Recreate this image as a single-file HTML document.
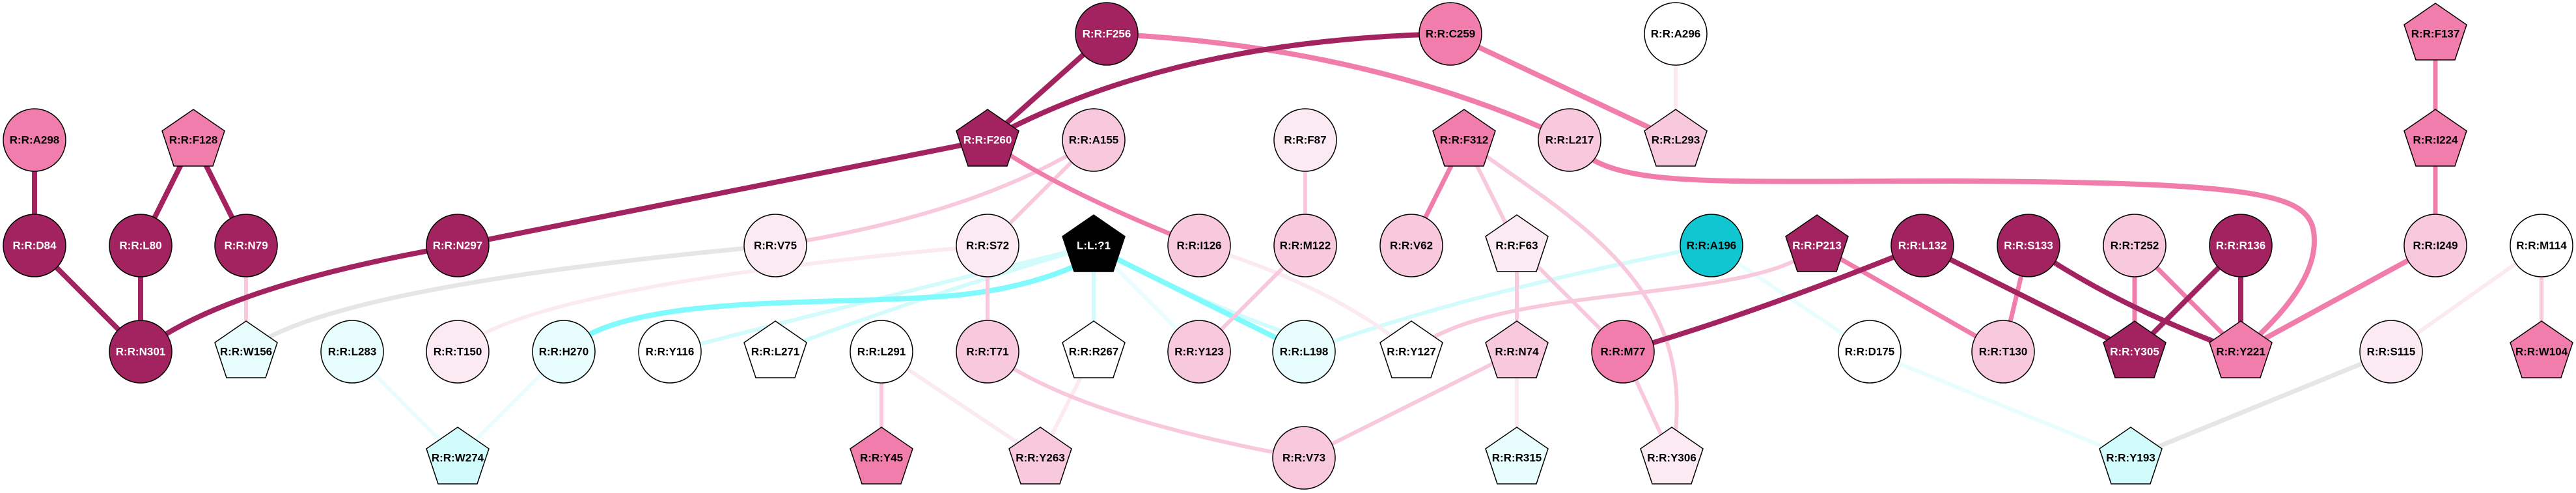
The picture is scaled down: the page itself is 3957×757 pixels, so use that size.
<!DOCTYPE html>
<html><head><meta charset="utf-8"><style>
html,body{margin:0;padding:0;background:#fff;}
svg{display:block;}
text{font-family:"Liberation Sans",sans-serif;font-weight:bold;font-size:17px;text-anchor:middle;dominant-baseline:central;}
.w{fill:#fff;}
</style></head><body>
<svg width="3957" height="757" viewBox="0 0 3957 757" xmlns="http://www.w3.org/2000/svg">
<defs>
<polygon id="p" points="0,-47 48,-14 30,40 -30,40 -48,-14" stroke="#000" stroke-width="1.5"/>
</defs>
<g fill="none" stroke-linecap="butt">
<!-- very light / cyan / gray first -->
<path d="M378,540 Q500,440 1191,377" stroke="#E6E6E6" stroke-width="7"/>
<path d="M703,540 Q800,440 1517,377" stroke="#FBEAF2" stroke-width="6"/>
<path d="M541,540 L703,703" stroke="#E8FDFD" stroke-width="6"/>
<path d="M866,540 L703,703" stroke="#E8FDFD" stroke-width="6"/>
<path d="M1680,377 Q1300,470 1029,540" stroke="#D2FBFC" stroke-width="6"/>
<path d="M1680,377 Q1400,460 1191,540" stroke="#D2FBFC" stroke-width="6"/>
<path d="M1680,377 L1680,540" stroke="#D2FBFC" stroke-width="6"/>
<path d="M1680,377 L1842,540" stroke="#E8FDFD" stroke-width="6"/>
<path d="M1680,377 Q1850,470 2003,520" stroke="#D2FBFC" stroke-width="6"/>
<path d="M2629,377 Q2250,450 2003,540" stroke="#D2FBFC" stroke-width="6"/>
<path d="M2629,377 L2872,540 L3273,703" stroke="#E8FDFD" stroke-width="6"/>
<path d="M3673,540 L3273,703" stroke="#E6E6E6" stroke-width="7"/>
<path d="M3904,377 L3673,540" stroke="#FBEAF2" stroke-width="6"/>
<path d="M1842,377 Q2050,440 2168,540" stroke="#FBEAF2" stroke-width="6"/>
<path d="M1354,540 L1598,703" stroke="#FBEAF2" stroke-width="6"/>
<path d="M1680,540 L1598,703" stroke="#FBEAF2" stroke-width="6"/>
<path d="M2574,52 L2574,215" stroke="#FBEAF2" stroke-width="6"/>
<path d="M2330,540 L2330,703" stroke="#FBEAF2" stroke-width="6"/>
<!-- bright cyan -->
<path d="M866,540 C960,450 1250,470 1450,455 C1580,445 1650,410 1680,395" stroke="#80FAFC" stroke-width="8"/>
<path d="M1700,390 L2003,540" stroke="#80FAFC" stroke-width="8"/>
<!-- light pink -->
<path d="M378,377 L378,540" stroke="#F8C8DC" stroke-width="6"/>
<path d="M1680,215 Q1500,330 1191,377" stroke="#F8C8DC" stroke-width="6"/>
<path d="M1680,215 L1517,377" stroke="#F8C8DC" stroke-width="6"/>
<path d="M1517,377 L1517,540" stroke="#F8C8DC" stroke-width="6"/>
<path d="M2005,215 L2005,377" stroke="#F8C8DC" stroke-width="6"/>
<path d="M2005,377 L1842,540" stroke="#F8C8DC" stroke-width="6"/>
<path d="M1354,540 L1354,703" stroke="#F8C8DC" stroke-width="6"/>
<path d="M1517,540 Q1650,640 2003,703" stroke="#F8C8DC" stroke-width="6"/>
<path d="M2249,215 L2330,377" stroke="#F8C8DC" stroke-width="6"/>
<path d="M2249,215 C2400,330 2620,430 2568,703" stroke="#F8C8DC" stroke-width="6"/>
<path d="M2330,377 L2330,540" stroke="#F8C8DC" stroke-width="6"/>
<path d="M2330,377 L2493,540" stroke="#F8C8DC" stroke-width="6"/>
<path d="M2330,540 L2003,703" stroke="#F8C8DC" stroke-width="6"/>
<path d="M2493,540 L2568,703" stroke="#F8C8DC" stroke-width="6"/>
<path d="M2791,377 C2700,470 2300,430 2168,540" stroke="#F8C8DC" stroke-width="6"/>
<path d="M3904,377 L3904,540" stroke="#F8C8DC" stroke-width="6"/>
<!-- medium pink -->
<path d="M1700,52 Q2100,70 2411,215" stroke="#F07DAB" stroke-width="8"/>
<path d="M2228,52 L2574,215" stroke="#F07DAB" stroke-width="8"/>
<path d="M1517,215 Q1620,290 1842,377" stroke="#F07DAB" stroke-width="7"/>
<path d="M2249,215 L2168,377" stroke="#F07DAB" stroke-width="7"/>
<path d="M2411,215 C2470,290 2600,278 3000,278 C3500,280 3555,300 3555,370 C3555,430 3500,490 3442,540" stroke="#F07DAB" stroke-width="8"/>
<path d="M2791,377 L3077,540" stroke="#F07DAB" stroke-width="7"/>
<path d="M3116,377 L3077,540" stroke="#F07DAB" stroke-width="7"/>
<path d="M3279,377 L3279,540" stroke="#F07DAB" stroke-width="7"/>
<path d="M3279,377 L3442,540" stroke="#F07DAB" stroke-width="7"/>
<path d="M3741,377 L3442,540" stroke="#F07DAB" stroke-width="8"/>
<path d="M3741,52 L3741,377" stroke="#F07DAB" stroke-width="7"/>
<!-- dark -->
<path d="M53,215 L53,377" stroke="#A2235F" stroke-width="8"/>
<path d="M297,215 L216,377" stroke="#A2235F" stroke-width="8"/>
<path d="M297,215 L378,377" stroke="#A2235F" stroke-width="8"/>
<path d="M53,377 L216,540" stroke="#A2235F" stroke-width="8"/>
<path d="M216,377 L216,540" stroke="#A2235F" stroke-width="8"/>
<path d="M216,540 Q340,440 703,377" stroke="#A2235F" stroke-width="8"/>
<path d="M703,377 L1517,215" stroke="#A2235F" stroke-width="8"/>
<path d="M1700,52 L1517,215" stroke="#A2235F" stroke-width="8"/>
<path d="M1517,215 Q1800,60 2228,52" stroke="#A2235F" stroke-width="8"/>
<path d="M2953,377 Q2700,480 2493,540" stroke="#A2235F" stroke-width="8"/>
<path d="M2953,377 L3279,540" stroke="#A2235F" stroke-width="8"/>
<path d="M3116,377 Q3250,470 3442,540" stroke="#A2235F" stroke-width="8"/>
<path d="M3442,377 L3279,540" stroke="#A2235F" stroke-width="8"/>
<path d="M3442,377 L3442,540" stroke="#A2235F" stroke-width="8"/>
</g>
<g stroke="#000" stroke-width="1.5">
<!-- row1 -->
<ellipse cx="1700" cy="52" rx="48" ry="48" fill="#A2235F"/><text x="1700" y="52" class="w" stroke="none">R:R:F256</text>
<ellipse cx="2228" cy="52" rx="48" ry="48" fill="#F07DAB"/><text x="2228" y="52" stroke="none">R:R:C259</text>
<ellipse cx="2574" cy="52" rx="48" ry="48" fill="#FFFFFF"/><text x="2574" y="52" stroke="none">R:R:A296</text>
<use href="#p" x="3741" y="52" fill="#F07DAB"/><text x="3741" y="52" stroke="none">R:R:F137</text>
<!-- row2 -->
<ellipse cx="53" cy="215" rx="48" ry="48" fill="#F07DAB"/><text x="53" y="215" stroke="none">R:R:A298</text>
<use href="#p" x="297" y="215" fill="#F07DAB"/><text x="297" y="215" stroke="none">R:R:F128</text>
<use href="#p" x="1517" y="215" fill="#A2235F"/><text x="1517" y="215" class="w" stroke="none">R:R:F260</text>
<ellipse cx="1680" cy="215" rx="48" ry="48" fill="#F8C8DC"/><text x="1680" y="215" stroke="none">R:R:A155</text>
<ellipse cx="2005" cy="215" rx="48" ry="48" fill="#FBEAF2"/><text x="2005" y="215" stroke="none">R:R:F87</text>
<use href="#p" x="2249" y="215" fill="#F07DAB"/><text x="2249" y="215" stroke="none">R:R:F312</text>
<ellipse cx="2411" cy="215" rx="48" ry="48" fill="#F8C8DC"/><text x="2411" y="215" stroke="none">R:R:L217</text>
<use href="#p" x="2574" y="215" fill="#F8C8DC"/><text x="2574" y="215" stroke="none">R:R:L293</text>
<use href="#p" x="3741" y="215" fill="#F07DAB"/><text x="3741" y="215" stroke="none">R:R:I224</text>
<!-- row3 -->
<ellipse cx="53" cy="377" rx="48" ry="48" fill="#A2235F"/><text x="53" y="377" class="w" stroke="none">R:R:D84</text>
<ellipse cx="216" cy="377" rx="48" ry="48" fill="#A2235F"/><text x="216" y="377" class="w" stroke="none">R:R:L80</text>
<ellipse cx="378" cy="377" rx="48" ry="48" fill="#A2235F"/><text x="378" y="377" class="w" stroke="none">R:R:N79</text>
<ellipse cx="703" cy="377" rx="48" ry="48" fill="#A2235F"/><text x="703" y="377" class="w" stroke="none">R:R:N297</text>
<ellipse cx="1191" cy="377" rx="48" ry="48" fill="#FBEAF2"/><text x="1191" y="377" stroke="none">R:R:V75</text>
<ellipse cx="1517" cy="377" rx="48" ry="48" fill="#FBEAF2"/><text x="1517" y="377" stroke="none">R:R:S72</text>
<use href="#p" x="1680" y="377" fill="#000000"/><text x="1680" y="377" class="w" stroke="none">L:L:?1</text>
<ellipse cx="1842" cy="377" rx="48" ry="48" fill="#F8C8DC"/><text x="1842" y="377" stroke="none">R:R:I126</text>
<ellipse cx="2005" cy="377" rx="48" ry="48" fill="#F8C8DC"/><text x="2005" y="377" stroke="none">R:R:M122</text>
<ellipse cx="2168" cy="377" rx="48" ry="48" fill="#F8C8DC"/><text x="2168" y="377" stroke="none">R:R:V62</text>
<use href="#p" x="2330" y="377" fill="#FBEAF2"/><text x="2330" y="377" stroke="none">R:R:F63</text>
<ellipse cx="2629" cy="377" rx="48" ry="48" fill="#10C6D1"/><text x="2629" y="377" stroke="none">R:R:A196</text>
<use href="#p" x="2791" y="377" fill="#A2235F"/><text x="2791" y="377" class="w" stroke="none">R:R:P213</text>
<ellipse cx="2953" cy="377" rx="48" ry="48" fill="#A2235F"/><text x="2953" y="377" class="w" stroke="none">R:R:L132</text>
<ellipse cx="3116" cy="377" rx="48" ry="48" fill="#A2235F"/><text x="3116" y="377" class="w" stroke="none">R:R:S133</text>
<ellipse cx="3279" cy="377" rx="48" ry="48" fill="#F8C8DC"/><text x="3279" y="377" stroke="none">R:R:T252</text>
<ellipse cx="3442" cy="377" rx="48" ry="48" fill="#A2235F"/><text x="3442" y="377" class="w" stroke="none">R:R:R136</text>
<ellipse cx="3741" cy="377" rx="48" ry="48" fill="#F8C8DC"/><text x="3741" y="377" stroke="none">R:R:I249</text>
<ellipse cx="3904" cy="377" rx="48" ry="48" fill="#FFFFFF"/><text x="3904" y="377" stroke="none">R:R:M114</text>
<!-- row4 -->
<ellipse cx="216" cy="540" rx="48" ry="48" fill="#A2235F"/><text x="216" y="540" class="w" stroke="none">R:R:N301</text>
<use href="#p" x="378" y="540" fill="#E8FDFD"/><text x="378" y="540" stroke="none">R:R:W156</text>
<ellipse cx="541" cy="540" rx="48" ry="48" fill="#E8FDFD"/><text x="541" y="540" stroke="none">R:R:L283</text>
<ellipse cx="703" cy="540" rx="48" ry="48" fill="#FBEAF2"/><text x="703" y="540" stroke="none">R:R:T150</text>
<ellipse cx="866" cy="540" rx="48" ry="48" fill="#E8FDFD"/><text x="866" y="540" stroke="none">R:R:H270</text>
<ellipse cx="1029" cy="540" rx="48" ry="48" fill="#FFFFFF"/><text x="1029" y="540" stroke="none">R:R:Y116</text>
<use href="#p" x="1191" y="540" fill="#FFFFFF"/><text x="1191" y="540" stroke="none">R:R:L271</text>
<ellipse cx="1354" cy="540" rx="48" ry="48" fill="#FFFFFF"/><text x="1354" y="540" stroke="none">R:R:L291</text>
<ellipse cx="1517" cy="540" rx="48" ry="48" fill="#F8C8DC"/><text x="1517" y="540" stroke="none">R:R:T71</text>
<use href="#p" x="1680" y="540" fill="#FFFFFF"/><text x="1680" y="540" stroke="none">R:R:R267</text>
<ellipse cx="1842" cy="540" rx="48" ry="48" fill="#F8C8DC"/><text x="1842" y="540" stroke="none">R:R:Y123</text>
<ellipse cx="2003" cy="540" rx="48" ry="48" fill="#E8FDFD"/><text x="2003" y="540" stroke="none">R:R:L198</text>
<use href="#p" x="2168" y="540" fill="#FFFFFF"/><text x="2168" y="540" stroke="none">R:R:Y127</text>
<use href="#p" x="2330" y="540" fill="#F8C8DC"/><text x="2330" y="540" stroke="none">R:R:N74</text>
<ellipse cx="2493" cy="540" rx="48" ry="48" fill="#F07DAB"/><text x="2493" y="540" stroke="none">R:R:M77</text>
<ellipse cx="2872" cy="540" rx="48" ry="48" fill="#FFFFFF"/><text x="2872" y="540" stroke="none">R:R:D175</text>
<ellipse cx="3077" cy="540" rx="48" ry="48" fill="#F8C8DC"/><text x="3077" y="540" stroke="none">R:R:T130</text>
<use href="#p" x="3279" y="540" fill="#A2235F"/><text x="3279" y="540" class="w" stroke="none">R:R:Y305</text>
<use href="#p" x="3442" y="540" fill="#F07DAB"/><text x="3442" y="540" stroke="none">R:R:Y221</text>
<ellipse cx="3673" cy="540" rx="48" ry="48" fill="#FBEAF2"/><text x="3673" y="540" stroke="none">R:R:S115</text>
<use href="#p" x="3904" y="540" fill="#F07DAB"/><text x="3904" y="540" stroke="none">R:R:W104</text>
<!-- row5 -->
<use href="#p" x="703" y="703" fill="#D2FBFC"/><text x="703" y="703" stroke="none">R:R:W274</text>
<use href="#p" x="1354" y="703" fill="#F07DAB"/><text x="1354" y="703" stroke="none">R:R:Y45</text>
<use href="#p" x="1598" y="703" fill="#F8C8DC"/><text x="1598" y="703" stroke="none">R:R:Y263</text>
<ellipse cx="2003" cy="703" rx="48" ry="48" fill="#F8C8DC"/><text x="2003" y="703" stroke="none">R:R:V73</text>
<use href="#p" x="2330" y="703" fill="#E8FDFD"/><text x="2330" y="703" stroke="none">R:R:R315</text>
<use href="#p" x="2568" y="703" fill="#FBEAF2"/><text x="2568" y="703" stroke="none">R:R:Y306</text>
<use href="#p" x="3273" y="703" fill="#D2FBFC"/><text x="3273" y="703" stroke="none">R:R:Y193</text>
</g>
</svg>
</body></html>
